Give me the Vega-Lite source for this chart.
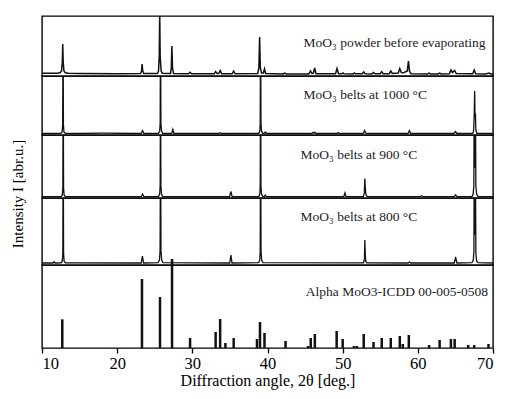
{
  "$schema": "https://vega.github.io/schema/vega-lite/v6.json",
  "background": "white",
  "padding": {"left": 9, "top": 15, "right": 2, "bottom": 5},
  "spacing": 0,
  "bounds": "flush",
  "config": {
    "font": "Liberation Serif",
    "view": {"stroke": "#000", "strokeWidth": 1.4},
    "text": {"font": "Liberation Serif", "fontSize": 13.5, "color": "#222", "align": "left", "baseline": "middle"},
    "axis": {"labelFont": "Liberation Serif", "titleFont": "Liberation Serif", "labelColor": "#000", "titleColor": "#000", "titleFontWeight": "normal", "grid": false}
  },
  "datasets": {
    "powder": [
      {"a":10,"i":2.8},{"a":11,"i":2.7},{"a":12,"i":2.8},{"a":12.4,"i":3.2},{"a":12.6,"i":5},{"a":12.7,"i":14},{"a":12.76,"i":32},{"a":12.82,"i":14},{"a":12.92,"i":5},{"a":13.1,"i":3.2},{"a":13.5,"i":2.7},{"a":15,"i":2.5},{"a":20,"i":2.3},
      {"a":23.1,"i":2.4},{"a":23.25,"i":5},{"a":23.32,"i":12},{"a":23.4,"i":5},{"a":23.55,"i":2.4},
      {"a":25.35,"i":2.5},{"a":25.5,"i":5},{"a":25.6,"i":20},{"a":25.66,"i":64},{"a":25.72,"i":20},{"a":25.85,"i":5},{"a":26.0,"i":2.8},
      {"a":27.1,"i":2.6},{"a":27.2,"i":8},{"a":27.28,"i":30},{"a":27.36,"i":8},{"a":27.5,"i":2.6},
      {"a":29.5,"i":2.2},{"a":29.7,"i":3.7},{"a":29.9,"i":2.2},{"a":32.9,"i":2.2},{"a":33.1,"i":4.5},{"a":33.3,"i":2.4},{"a":33.5,"i":2.4},{"a":33.72,"i":5.5},{"a":33.9,"i":2.3},
      {"a":35.3,"i":2.2},{"a":35.5,"i":5},{"a":35.7,"i":2.2},
      {"a":38.7,"i":2.6},{"a":38.85,"i":8},{"a":38.95,"i":39},{"a":39.05,"i":8},{"a":39.2,"i":3},{"a":39.45,"i":3},{"a":39.6,"i":7},{"a":39.75,"i":2.5},
      {"a":42.1,"i":2.1},{"a":42.3,"i":3},{"a":42.5,"i":2.1},{"a":45.5,"i":2.1},{"a":45.72,"i":5},{"a":45.9,"i":2.6},{"a":46.1,"i":2.8},{"a":46.27,"i":8},{"a":46.45,"i":2.3},
      {"a":49.05,"i":2.2},{"a":49.25,"i":7.5},{"a":49.45,"i":2.3},{"a":49.9,"i":2.2},{"a":50.05,"i":3},{"a":50.2,"i":2.2},{"a":51.4,"i":2.1},{"a":51.55,"i":3},{"a":51.7,"i":2.2},
      {"a":52.6,"i":2.2},{"a":52.8,"i":4},{"a":53.0,"i":2.2},{"a":53.9,"i":2.1},{"a":54.1,"i":3.5},{"a":54.3,"i":2.2},{"a":55.0,"i":2.2},{"a":55.2,"i":4.5},{"a":55.4,"i":2.2},
      {"a":56.2,"i":2.3},{"a":56.4,"i":5},{"a":56.6,"i":2.5},{"a":57.4,"i":3},{"a":57.6,"i":7.5},{"a":57.8,"i":3.5},{"a":58.1,"i":3.2},{"a":58.3,"i":4},{"a":58.6,"i":5},{"a":58.75,"i":15},{"a":58.9,"i":4.5},{"a":59.1,"i":2.3},
      {"a":61.3,"i":2.1},{"a":61.5,"i":3},{"a":61.7,"i":2.1},{"a":62.7,"i":2.1},{"a":62.9,"i":3},{"a":63.1,"i":2.1},{"a":64.2,"i":2.3},{"a":64.4,"i":6},{"a":64.6,"i":3.5},{"a":64.9,"i":5.5},{"a":65.1,"i":2.4},
      {"a":67.3,"i":2.2},{"a":67.5,"i":6},{"a":67.7,"i":2.2},{"a":69.0,"i":2.1},{"a":69.5,"i":3},{"a":69.7,"i":2.1},{"a":70,"i":2.1}
    ],
    "b1000": [
      {"a":10,"i":1.5},{"a":12.5,"i":1.6},{"a":12.68,"i":3},{"a":12.75,"i":10},{"a":12.8,"i":120},{"a":12.85,"i":10},{"a":12.92,"i":3},{"a":13.1,"i":1.6},{"a":15,"i":1.5},{"a":18,"i":1.8},{"a":23.2,"i":1.5},{"a":23.38,"i":4.5},{"a":23.55,"i":1.5},
      {"a":25.5,"i":1.7},{"a":25.66,"i":4},{"a":25.72,"i":12},{"a":25.77,"i":120},{"a":25.82,"i":12},{"a":25.9,"i":4},{"a":26.05,"i":1.7},{"a":27.25,"i":1.5},{"a":27.4,"i":5.5},{"a":27.55,"i":1.5},
      {"a":33.5,"i":1.5},{"a":33.7,"i":2.3},{"a":33.9,"i":1.5},{"a":38.85,"i":1.7},{"a":38.98,"i":4},{"a":39.03,"i":12},{"a":39.08,"i":120},{"a":39.13,"i":12},{"a":39.2,"i":4},{"a":39.35,"i":1.7},{"a":39.55,"i":1.5},{"a":39.7,"i":3},{"a":39.85,"i":1.5},
      {"a":45.9,"i":1.5},{"a":46.05,"i":2.7},{"a":46.18,"i":1.8},{"a":46.3,"i":2.7},{"a":46.45,"i":1.5},{"a":49.25,"i":1.5},{"a":49.4,"i":2.5},{"a":49.55,"i":1.5},{"a":52.75,"i":1.5},{"a":52.92,"i":4.5},{"a":53.1,"i":1.5},
      {"a":58.7,"i":1.5},{"a":58.88,"i":4.5},{"a":59.05,"i":1.5},{"a":64.8,"i":1.5},{"a":65.0,"i":3.5},{"a":65.2,"i":1.5},
      {"a":67.3,"i":1.6},{"a":67.42,"i":4},{"a":67.5,"i":20},{"a":67.56,"i":44},{"a":67.6,"i":22},{"a":67.66,"i":21},{"a":67.72,"i":5},{"a":67.85,"i":1.6},{"a":70,"i":1.5}
    ],
    "b900": [
      {"a":10,"i":1.3},{"a":12.55,"i":1.4},{"a":12.7,"i":3},{"a":12.77,"i":10},{"a":12.82,"i":130},{"a":12.87,"i":10},{"a":12.94,"i":3},{"a":13.1,"i":1.4},{"a":23.22,"i":1.3},{"a":23.38,"i":4},{"a":23.55,"i":1.3},
      {"a":25.5,"i":1.5},{"a":25.65,"i":4},{"a":25.72,"i":12},{"a":25.77,"i":130},{"a":25.82,"i":12},{"a":25.9,"i":4},{"a":26.05,"i":1.5},{"a":34.95,"i":1.3},{"a":35.12,"i":6.5},{"a":35.3,"i":1.3},
      {"a":38.85,"i":1.5},{"a":38.98,"i":4},{"a":39.03,"i":12},{"a":39.08,"i":130},{"a":39.13,"i":12},{"a":39.2,"i":4},{"a":39.35,"i":1.5},{"a":39.55,"i":1.3},{"a":39.7,"i":2.8},{"a":39.85,"i":1.3},
      {"a":50.15,"i":1.3},{"a":50.3,"i":5},{"a":50.45,"i":1.3},{"a":52.75,"i":1.4},{"a":52.88,"i":5},{"a":52.95,"i":19.5},{"a":53.02,"i":9},{"a":53.08,"i":4},{"a":53.25,"i":1.4},
      {"a":60.3,"i":1.3},{"a":60.5,"i":2.2},{"a":60.7,"i":1.3},{"a":64.85,"i":1.3},{"a":65.02,"i":3.2},{"a":65.2,"i":1.3},
      {"a":67.2,"i":1.5},{"a":67.36,"i":4},{"a":67.45,"i":12},{"a":67.52,"i":130},{"a":67.58,"i":30},{"a":67.64,"i":130},{"a":67.72,"i":12},{"a":67.82,"i":4},{"a":68.0,"i":1.5},{"a":70,"i":1.3}
    ],
    "b800": [
      {"a":10,"i":2},{"a":11.45,"i":2},{"a":11.6,"i":3.2},{"a":11.75,"i":2},{"a":12.55,"i":2.1},{"a":12.7,"i":4},{"a":12.77,"i":12},{"a":12.82,"i":140},{"a":12.87,"i":12},{"a":12.94,"i":4},{"a":13.1,"i":2.1},
      {"a":23.2,"i":2},{"a":23.36,"i":9},{"a":23.52,"i":2},{"a":25.45,"i":2.3},{"a":25.62,"i":5},{"a":25.71,"i":14},{"a":25.77,"i":140},{"a":25.83,"i":14},{"a":25.92,"i":5},{"a":26.1,"i":2.3},
      {"a":34.98,"i":2},{"a":35.13,"i":10},{"a":35.28,"i":2},{"a":38.82,"i":2.3},{"a":38.97,"i":5},{"a":39.03,"i":14},{"a":39.08,"i":140},{"a":39.14,"i":14},{"a":39.22,"i":5},{"a":39.4,"i":2.3},
      {"a":52.78,"i":2.1},{"a":52.9,"i":6},{"a":52.95,"i":25},{"a":53.01,"i":10},{"a":53.07,"i":4},{"a":53.2,"i":2.1},{"a":58.7,"i":2},{"a":58.88,"i":3},{"a":59.05,"i":2},
      {"a":64.85,"i":2},{"a":65.02,"i":8},{"a":65.2,"i":2},
      {"a":67.2,"i":2.3},{"a":67.38,"i":5},{"a":67.46,"i":14},{"a":67.52,"i":140},{"a":67.58,"i":30},{"a":67.64,"i":140},{"a":67.72,"i":12},{"a":67.82,"i":4},{"a":68.0,"i":2.3},{"a":70,"i":2}
    ],
    "icdd": [
      {"a":12.7,"h":28.7},{"a":23.3,"h":69},{"a":25.7,"h":51},{"a":27.3,"h":89},{"a":29.7,"h":10},{"a":33.1,"h":16},{"a":33.7,"h":29},{"a":34.4,"h":5},{"a":35.5,"h":10},
      {"a":38.6,"h":9},{"a":39.0,"h":26},{"a":39.6,"h":15},{"a":42.4,"h":7},{"a":45.4,"h":2},{"a":45.75,"h":10},{"a":46.3,"h":14},{"a":49.2,"h":17},{"a":50.0,"h":9},
      {"a":51.5,"h":2},{"a":51.9,"h":2},{"a":52.8,"h":14},{"a":54.1,"h":6},{"a":55.2,"h":10},{"a":56.4,"h":10},{"a":57.6,"h":12},{"a":58.0,"h":4},{"a":58.8,"h":13},
      {"a":61.5,"h":3},{"a":62.9,"h":8},{"a":64.4,"h":9},{"a":64.9,"h":9},{"a":66.7,"h":3},{"a":67.5,"h":3},{"a":69.4,"h":4}
    ]
  },
  "vconcat": [
    {
      "width": 451, "height": 60,
      "layer": [
        {"data": {"name": "powder"}, "mark": {"type": "line", "clip": true, "color": "#111", "strokeWidth": 1.5},
         "encoding": {"x": {"field": "a", "type": "quantitative", "scale": {"domain": [10, 70], "nice": false}, "axis": null},
                      "y": {"field": "i", "type": "quantitative", "scale": {"domain": [0, 60], "nice": false}, "axis": null}}},
        {"data": {"values": [{"label": "MoO₃ powder before evaporating"}]}, "mark": {"type": "text"},
         "encoding": {"x": {"datum": 44.8}, "y": {"datum": 32.7}, "text": {"field": "label"}}}
      ]
    },
    {
      "width": 451, "height": 59,
      "layer": [
        {"data": {"name": "b1000"}, "mark": {"type": "line", "clip": true, "color": "#111", "strokeWidth": 1.3},
         "encoding": {"x": {"field": "a", "type": "quantitative", "scale": {"domain": [10, 70], "nice": false}, "axis": null},
                      "y": {"field": "i", "type": "quantitative", "scale": {"domain": [0, 59], "nice": false}, "axis": null}}},
        {"data": {"values": [{"label": "MoO₃ belts at 1000 °C"}]}, "mark": {"type": "text"},
         "encoding": {"x": {"datum": 44.8}, "y": {"datum": 40.4}, "text": {"field": "label"}}}
      ]
    },
    {
      "width": 451, "height": 63,
      "layer": [
        {"data": {"name": "b900"}, "mark": {"type": "line", "clip": true, "color": "#111", "strokeWidth": 1.3},
         "encoding": {"x": {"field": "a", "type": "quantitative", "scale": {"domain": [10, 70], "nice": false}, "axis": null},
                      "y": {"field": "i", "type": "quantitative", "scale": {"domain": [0, 63], "nice": false},
                            "axis": {"title": "Intensity I [abr.u.]", "labels": false, "ticks": false, "domain": false, "titleFontSize": 15, "titleFont": "Liberation Serif", "titleY": 58.5, "titlePadding": 17}}}},
        {"data": {"values": [{"label": "MoO₃ belts at 900 °C"}]}, "mark": {"type": "text"},
         "encoding": {"x": {"datum": 44.4}, "y": {"datum": 43}, "text": {"field": "label"}}}
      ]
    },
    {
      "width": 451, "height": 67,
      "layer": [
        {"data": {"name": "b800"}, "mark": {"type": "line", "clip": true, "color": "#111", "strokeWidth": 1.3},
         "encoding": {"x": {"field": "a", "type": "quantitative", "scale": {"domain": [10, 70], "nice": false}, "axis": null},
                      "y": {"field": "i", "type": "quantitative", "scale": {"domain": [0, 67], "nice": false}, "axis": null}}},
        {"data": {"values": [{"label": "MoO₃ belts at 800 °C"}]}, "mark": {"type": "text"},
         "encoding": {"x": {"datum": 44.4}, "y": {"datum": 48.3}, "text": {"field": "label"}}}
      ]
    },
    {
      "width": 451, "height": 83,
      "layer": [
        {"data": {"name": "icdd"}, "mark": {"type": "rule", "clip": false, "color": "#111", "strokeWidth": 2.5},
         "encoding": {"x": {"field": "a", "type": "quantitative", "scale": {"domain": [10, 70], "nice": false},
                            "axis": {"title": "Diffraction angle, 2θ [deg.]", "values": [10, 15, 20, 25, 30, 35, 40, 45, 50, 55, 60, 65, 70],
                                     "labelExpr": "datum.value % 10 === 0 ? datum.label : ''", "domain": false,
                                     "tickSize": {"condition": {"test": "datum.value % 10 === 0", "value": 5}, "value": 3},
                                     "tickColor": "#000", "tickWidth": 1.3, "labelFont": "Liberation Serif", "titleFont": "Liberation Serif",
                                     "labelFontSize": 16.5, "titleFontSize": 16, "labelPadding": 2, "titlePadding": 1}},
                      "y": {"field": "h", "type": "quantitative", "scale": {"domain": [0, 83], "nice": false}, "axis": null},
                      "y2": {"datum": 0}}},
        {"data": {"values": [{"label": "Alpha MoO3-ICDD 00-005-0508"}]}, "mark": {"type": "text"},
         "encoding": {"x": {"datum": 45.1}, "y": {"datum": 56.3}, "text": {"field": "label"}}}
      ]
    }
  ]
}
